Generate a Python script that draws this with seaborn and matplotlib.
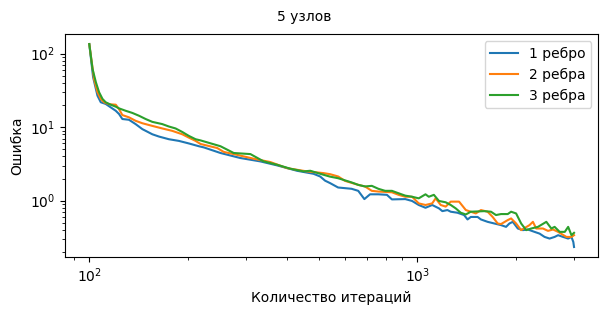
import matplotlib
matplotlib.use("Agg")
import matplotlib.pyplot as plt
import seaborn as sns
import pandas as pd

# -- Data ----------------------------------------------------------------
labels = ["1 ребро", "2 ребра", "3 ребра"]

x_1 = [100, 102.7, 105.9, 108.4, 112.2, 116.2, 120.4, 123.2, 126.1, 132.1,
       138.4, 145.1, 155.6, 163.0, 174.8, 187.5, 201.1, 215.7, 223.4, 251.0,
       288.7, 332.1, 373.3, 429.4, 482.3, 505.4, 523, 542, 573, 630,
       660, 689, 717, 760, 807, 836, 918, 963, 1009, 1058,
       1109, 1163, 1191, 1234, 1263, 1324, 1387, 1421, 1454, 1525,
       1561, 1636, 1715, 1797, 1862, 1906, 1952, 2022, 2095, 2170,
       2274, 2356, 2440, 2527, 2618, 2683, 2778, 2879, 2946, 2985, 3000]
y_1 = [135, 48, 26.8, 21.8, 20.7, 18.6, 16.7, 15.1, 12.9, 12.6,
       11.0, 9.4, 8.0, 7.45, 6.85, 6.5, 6.0, 5.5, 5.3, 4.45,
       3.8, 3.42, 3.02, 2.55, 2.32, 2.13, 1.87, 1.73, 1.51, 1.45,
       1.36, 1.05, 1.22, 1.22, 1.2, 1.04, 1.05, 0.99, 0.873, 0.80,
       0.873, 0.785, 0.72, 0.745, 0.707, 0.685, 0.637, 0.555, 0.60, 0.60,
       0.555, 0.515, 0.489, 0.465, 0.44, 0.489, 0.515, 0.418, 0.397, 0.405,
       0.376, 0.356, 0.321, 0.305, 0.321, 0.339, 0.321, 0.305, 0.321, 0.274, 0.234]

x_2 = [100, 103.4, 105.9, 108.4, 110.9, 114.9, 120.4, 123.2, 126.1, 132.1,
       138.4, 145.1, 155.6, 166.9, 179.0, 192.0, 201.1, 210.8, 218.3, 245.3,
       256.9, 275.5, 316.9, 356.2, 400.4, 460.5, 517.3, 542, 573.6, 601,
       660, 692, 726, 760, 836, 876, 918, 963, 1009, 1058,
       1109, 1136, 1177, 1219, 1263, 1339, 1404, 1506, 1561, 1636,
       1695, 1756, 1797, 1884, 1929, 1998, 2070, 2195, 2248, 2301,
       2412, 2499, 2589, 2683, 2844, 2946, 3000]
y_2 = [135, 45, 29.9, 24.2, 21.8, 20.5, 20.2, 17.6, 14.6, 13.6,
       12.2, 11.3, 10.4, 9.6, 8.9, 8.0, 7.2, 6.5, 5.9, 5.2,
       4.6, 4.3, 3.72, 3.35, 2.77, 2.5, 2.37, 2.29, 2.13, 1.86,
       1.64, 1.56, 1.36, 1.33, 1.30, 1.2, 1.13, 1.13, 0.918, 0.873,
       0.918, 1.075, 0.873, 0.83, 0.97, 0.97, 0.745, 0.67, 0.745, 0.707,
       0.60, 0.489, 0.48, 0.544, 0.573, 0.489, 0.397, 0.465, 0.515, 0.418,
       0.418, 0.388, 0.405, 0.376, 0.321, 0.321, 0.339]

x_3 = [100, 102.3, 104.7, 107.1, 109.7, 112.2, 116.2, 120.4, 123.2, 129.1,
       135.3, 141.7, 148.5, 155.6, 166.9, 174.8, 183.2, 192.0, 201.1, 210.8,
       218.3, 251.0, 275.5, 309.7, 339.9, 373.3, 409.8, 449.7, 471.3, 517.3,
       542, 573, 630, 660, 692, 726, 760, 797, 836, 876,
       918, 963, 1009, 1058, 1083, 1122, 1163, 1219, 1263, 1308,
       1355, 1404, 1454, 1598, 1675, 1735, 1797, 1884, 1929, 1998,
       2070, 2145, 2222, 2329, 2470, 2558, 2618, 2713, 2811, 2879, 2946, 3000]
y_3 = [135, 62, 41, 29.9, 24.2, 21.8, 20.2, 19.0, 18.0, 16.7,
       15.6, 14.3, 12.9, 11.8, 11.0, 10.2, 9.6, 8.6, 7.6, 6.85,
       6.6, 5.5, 4.45, 4.3, 3.42, 3.08, 2.72, 2.5, 2.55, 2.25,
       2.12, 2.02, 1.77, 1.64, 1.56, 1.59, 1.45, 1.36, 1.36, 1.26,
       1.17, 1.13, 1.075, 1.22, 1.13, 1.2, 0.99, 0.95, 0.873, 0.785,
       0.685, 0.649, 0.707, 0.72, 0.707, 0.637, 0.657, 0.657, 0.707, 0.67,
       0.489, 0.397, 0.418, 0.44, 0.515, 0.418, 0.44, 0.376, 0.376, 0.44, 0.339, 0.365]

df = pd.concat([
    pd.DataFrame({"iters": x_1, "err": y_1, "series": labels[0]}),
    pd.DataFrame({"iters": x_2, "err": y_2, "series": labels[1]}),
    pd.DataFrame({"iters": x_3, "err": y_3, "series": labels[2]}),
], ignore_index=True)

# -- Plot ------------------------------------------------------------------
fig, ax = plt.subplots(figsize=(6.08, 3.14), dpi=100)
fig.subplots_adjust(left=0.107, right=0.984, bottom=0.181, top=0.892)

sns.lineplot(data=df, x="iters", y="err", hue="series", estimator=None,
             palette=["#1f77b4", "#ff7f0e", "#2ca02c"], linewidth=1.5, ax=ax)
ax.set_xscale("log")
ax.set_yscale("log")
ax.set_xlabel("Количество итераций")
ax.set_ylabel("Ошибка")
ax.legend(loc="upper right")
fig.suptitle("5 узлов", fontsize=10, y=0.968)

fig.savefig("out.png", dpi=100)
